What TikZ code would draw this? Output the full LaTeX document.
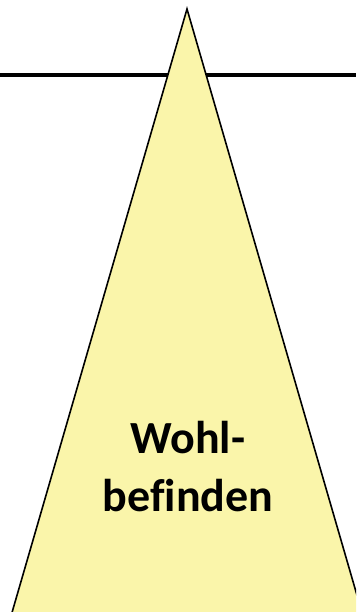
\documentclass[tikz,border=0pt]{standalone}
\usepackage{fontspec}
\setmainfont[Ligatures=NoCommon]{Carlito}
\definecolor{tri}{RGB}{250,245,170}
\begin{document}
\begin{tikzpicture}[x=1pt,y=1pt,
  hline/.style={line width=4.5pt,black},
  tribox/.style={fill=tri,draw=black,line width=1.6pt,line join=miter},
  lbl/.style={font=\bfseries\fontsize{46}{58}\selectfont,align=center,inner sep=0pt}]
\useasboundingbox (0,0) rectangle (356,612);
\begin{scope}
\clip (0,0) rectangle (356,612);
\coordinate (L) at (0,537);
\coordinate (R) at (356,537);
\draw[hline] (L) -- (R);
\coordinate (apex) at (187,603);
\coordinate (bl) at (11,-4);
\coordinate (br) at (363,-4);
\draw[tribox] (apex) -- (bl) -- (br) -- cycle;
\end{scope}
\node[lbl] (t) at (188,145) {Wohl-\\befinden};
\end{tikzpicture}
\end{document}
